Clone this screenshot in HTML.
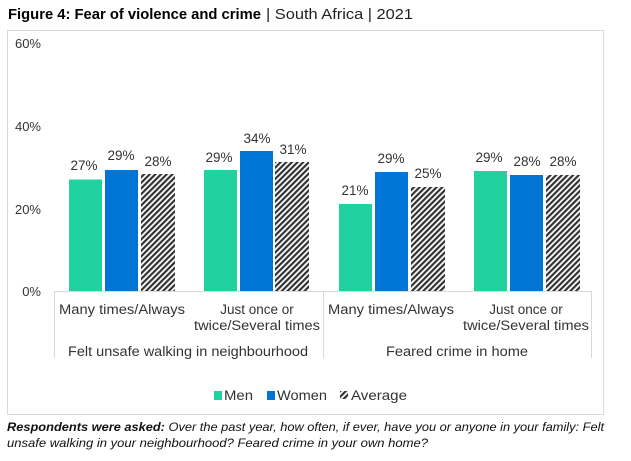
<!DOCTYPE html>
<html><head><meta charset="utf-8"><style>
body{margin:0;background:#fff;width:631px;height:456px;overflow:hidden;font-family:"Liberation Sans",sans-serif;}
</style></head><body>
<svg width="631" height="456" xmlns="http://www.w3.org/2000/svg" font-family="Liberation Sans, sans-serif">
<defs>
<pattern id="h" width="4" height="4" patternUnits="userSpaceOnUse" patternTransform="rotate(45)">
<rect width="4" height="4" fill="#fff"/><rect width="2.2" height="4" fill="#333"/>
</pattern>
</defs>
<text x="8" y="19" font-size="15" font-weight="bold" fill="#000" textLength="253" lengthAdjust="spacingAndGlyphs">Figure 4: Fear of violence and crime</text>
<text x="266" y="19" font-size="15" fill="#222" textLength="147" lengthAdjust="spacingAndGlyphs">| South Africa | 2021</text>
<rect x="7.5" y="30.5" width="596" height="384" fill="#fff" stroke="#d9d9d9"/>
<g font-size="13" fill="#333" text-anchor="end">
<text x="41" y="48">60%</text><text x="41" y="131">40%</text><text x="41" y="214">20%</text><text x="41" y="296">0%</text>
</g>
<g stroke="#d9d9d9" fill="none">
<line x1="54" y1="291.5" x2="591" y2="291.5"/>
<line x1="54.5" y1="291" x2="54.5" y2="358"/>
<line x1="323.5" y1="291" x2="323.5" y2="358"/>
<line x1="591.5" y1="291" x2="591.5" y2="358"/>
</g>
<g>
<rect x="69" y="179.5" width="33" height="111.5" fill="#21d19f"/>
<rect x="105" y="170" width="33" height="121" fill="#0075d5"/>
<rect x="141" y="174" width="34" height="117" fill="url(#h)"/>
<rect x="204" y="170" width="33" height="121" fill="#21d19f"/>
<rect x="240" y="151" width="33" height="140" fill="#0075d5"/>
<rect x="275" y="162" width="34" height="129" fill="url(#h)"/>
<rect x="339" y="204" width="33" height="87" fill="#21d19f"/>
<rect x="375" y="172" width="33" height="119" fill="#0075d5"/>
<rect x="411" y="187" width="34" height="104" fill="url(#h)"/>
<rect x="474" y="171" width="33" height="120" fill="#21d19f"/>
<rect x="510" y="175" width="33" height="116" fill="#0075d5"/>
<rect x="546" y="175" width="34" height="116" fill="url(#h)"/>
</g>
<g font-size="13.5" fill="#333" text-anchor="middle">
<text x="84" y="170">27%</text><text x="121" y="160">29%</text><text x="158" y="166">28%</text>
<text x="219" y="162">29%</text><text x="257" y="143">34%</text><text x="293" y="154">31%</text>
<text x="355" y="195">21%</text><text x="391" y="163">29%</text><text x="428" y="178">25%</text>
<text x="489" y="162">29%</text><text x="527" y="166">28%</text><text x="563" y="166">28%</text>
</g>
<g font-size="13.5" fill="#333" text-anchor="middle">
<text x="122" y="314" textLength="126" lengthAdjust="spacingAndGlyphs">Many times/Always</text>
<text x="257" y="314">Just once or</text><text x="257" y="330" textLength="126" lengthAdjust="spacingAndGlyphs">twice/Several times</text>
<text x="391" y="314" textLength="126" lengthAdjust="spacingAndGlyphs">Many times/Always</text>
<text x="526" y="314">Just once or</text><text x="526" y="330" textLength="126" lengthAdjust="spacingAndGlyphs">twice/Several times</text>
<text x="188" y="356" textLength="240" lengthAdjust="spacingAndGlyphs">Felt unsafe walking in neighbourhood</text>
<text x="457" y="356" textLength="142" lengthAdjust="spacingAndGlyphs">Feared crime in home</text>
</g>
<g font-size="14" fill="#333">
<rect x="214" y="391" width="8" height="9" fill="#21d19f"/><text x="224" y="400" textLength="29" lengthAdjust="spacingAndGlyphs">Men</text>
<rect x="267" y="391" width="8" height="9" fill="#0075d5"/><text x="277" y="400" textLength="50" lengthAdjust="spacingAndGlyphs">Women</text>
<rect x="340" y="391" width="8" height="8" fill="url(#h)"/><text x="351" y="400" textLength="56" lengthAdjust="spacingAndGlyphs">Average</text>
</g>
<g font-size="12" fill="#111" font-style="italic">
<text x="7" y="431" textLength="597" lengthAdjust="spacingAndGlyphs"><tspan font-weight="bold">Respondents were asked:</tspan> Over the past year, how often, if ever, have you or anyone in your family: Felt</text>
<text x="7" y="447" textLength="421" lengthAdjust="spacingAndGlyphs">unsafe walking in your neighbourhood? Feared crime in your own home?</text>
</g>
</svg>
</body></html>
